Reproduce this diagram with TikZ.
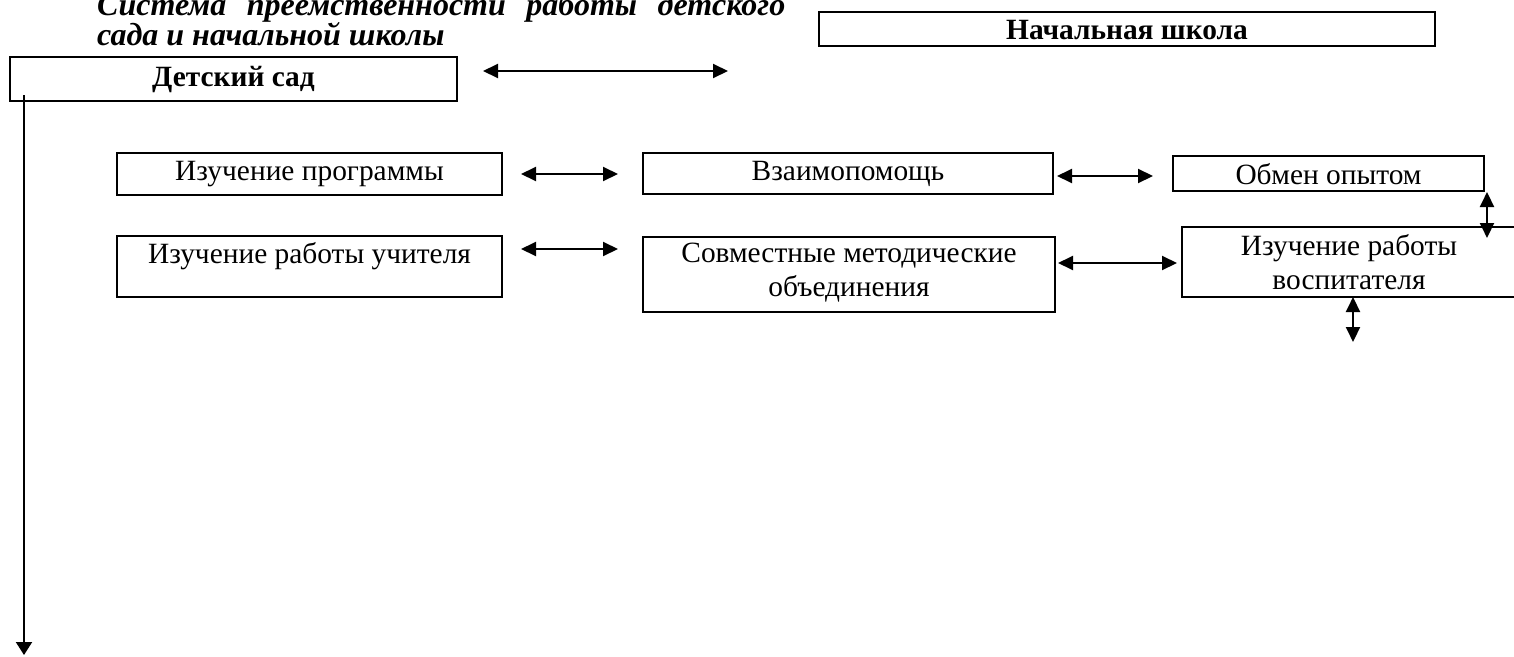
\documentclass[tikz,border=0pt]{standalone}
\usepackage{fontspec}
\setmainfont{Liberation Serif}
\usetikzlibrary{arrows.meta}
\begin{document}
\begin{tikzpicture}[x=1pt,y=-1pt,
  box/.style={draw, line width=1.9pt, inner sep=0pt},
  thickbox/.style={draw, line width=2.7pt, inner sep=0pt},
  txt/.style={inner sep=0pt, font=\fontsize{29.4}{34}\selectfont, align=center},
  btxt/.style={inner sep=0pt, font=\fontsize{29.4}{34}\selectfont\bfseries},
  ttl/.style={anchor=base west, inner sep=0pt, font=\fontsize{32}{36}\selectfont\bfseries\itshape},
  dbl/.style={line width=2pt, {Triangle[length=15pt,width=14pt]}-{Triangle[length=15pt,width=14pt]}},
  sgl/.style={line width=2pt, -{Triangle[length=13pt,width=16pt]}}]
\useasboundingbox (0,0) rectangle (1514,656);
% title
\node[ttl] (title1) at (97,15)
  {\hbox to 688pt{Система\hfill преемственности\hfill работы\hfill детского}};
\node[ttl] (title2) at (97,45) {сада и начальной школы};
% top boxes
\node[thickbox, minimum width=447pt, minimum height=44pt] (ds) at (233.5,79) {};
\node[btxt] (dst) at (233.5,80) {Детский сад};
\node[thickbox, minimum width=616pt, minimum height=34pt] (ns) at (1127,29) {};
\node[btxt] (nst) at (1127,30) {Начальная школа};
% row 1
\node[box, minimum width=385pt, minimum height=42pt] (r1b1) at (309.5,174) {};
\node[txt] (r1t1) at (309.5,174) {Изучение программы};
\node[box, minimum width=410pt, minimum height=41pt] (r1b2) at (848,173.5) {};
\node[txt] (r1t2) at (848,173.5) {Взаимопомощь};
\node[box, minimum width=311pt, minimum height=35pt] (r1b3) at (1328.5,173.5) {};
\node[txt] (r1t3) at (1328.5,174) {Обмен опытом};
% row 2
\node[box, minimum width=385pt, minimum height=61pt] (r2b1) at (309.5,266.5) {};
\node[txt] (r2t1) at (309.5,256) {Изучение работы учителя};
\node[box, minimum width=412pt, minimum height=75pt] (r2b2) at (849,274.5) {};
\node[txt] (r2t2) at (849,273) {Совместные методические\\объединения};
\node[box, minimum width=334pt, minimum height=70pt] (r2b3) at (1349,262) {};
\node[txt] (r2t3) at (1349,262) {Изучение работы\\воспитателя};
% connector ends
\coordinate (topL) at (483,71);
\coordinate (topR) at (728,71);
\coordinate (a1L) at (521,174);
\coordinate (a1R) at (618,174);
\coordinate (b1L) at (1057,176);
\coordinate (b1R) at (1153,176);
\coordinate (a2L) at (521,249);
\coordinate (a2R) at (618,249);
\coordinate (b2L) at (1058,263);
\coordinate (b2R) at (1177,263);
\coordinate (v1T) at (1487,192);
\coordinate (v1B) at (1487,238);
\coordinate (v2T) at (1353,297);
\coordinate (v2B) at (1353,342);
\coordinate (dT) at (24,95);
\coordinate (dB) at (24,655);
% connectors
\draw[dbl] (topL) -- (topR);
\draw[dbl] (a1L) -- (a1R);
\draw[dbl] (b1L) -- (b1R);
\draw[dbl] (a2L) -- (a2R);
\draw[dbl] (b2L) -- (b2R);
\draw[dbl] (v1T) -- (v1B);
\draw[dbl] (v2T) -- (v2B);
\draw[sgl] (dT) -- (dB);
\end{tikzpicture}
\end{document}
